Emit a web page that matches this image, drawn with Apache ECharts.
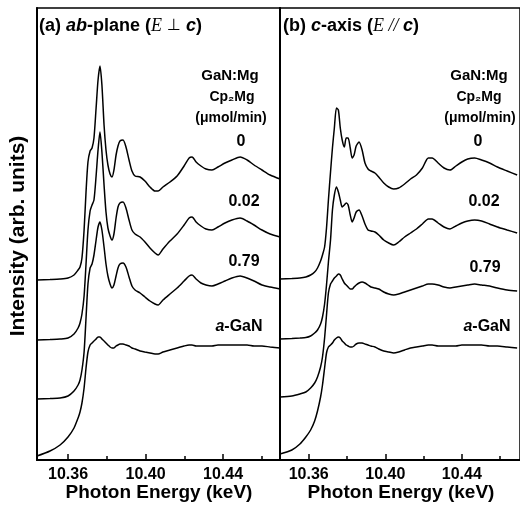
<!DOCTYPE html>
<html><head><meta charset="utf-8">
<script src="https://cdn.jsdelivr.net/npm/echarts@6/dist/echarts.min.js"></script>
<style>html,body{margin:0;padding:0;background:#fff}#c{width:520px;height:508px}</style>
</head><body><div id="c"></div>
<script>
// Photon energy grids (keV)
const energyA = [10.3440,10.3507,10.3559,10.3600,10.3631,10.3652,10.3662,10.3672,10.3683,10.3693,
  10.3703,10.3714,10.3724,10.3734,10.3745,10.3755,10.3765,10.3775,10.3786,10.3796,
  10.3806,10.3817,10.3827,10.3837,10.3848,10.3858,10.3868,10.3884,10.3899,10.3915,
  10.3930,10.3946,10.3972,10.3997,10.4023,10.4049,10.4065,10.4090,10.4126,10.4163,
  10.4199,10.4225,10.4240,10.4261,10.4286,10.4312,10.4343,10.4374,10.4410,10.4446,
  10.4488,10.4524,10.4560,10.4601,10.4643,10.4694];
const energyB = [10.3450,10.3512,10.3554,10.3585,10.3610,10.3631,10.3646,10.3662,10.3672,10.3683,
  10.3693,10.3703,10.3714,10.3724,10.3734,10.3745,10.3755,10.3765,10.3775,10.3786,
  10.3796,10.3806,10.3817,10.3827,10.3837,10.3848,10.3863,10.3879,10.3894,10.3910,
  10.3925,10.3946,10.3966,10.3992,10.4018,10.4044,10.4070,10.4101,10.4132,10.4163,
  10.4194,10.4225,10.4245,10.4276,10.4307,10.4338,10.4369,10.4400,10.4431,10.4467,
  10.4503,10.4545,10.4586,10.4637,10.4689];

// (a) ab-plane, intensities (arb. units, stacked with offsets)
const abMg0 = [180,180.5,181,182,185,190,193,202,230,268,298,309,312,322,352,380,394,375,335,310,
  295,286,283,290,305,314,319,320,313,300,289,284,283,279,273,269,269,273,278,284,
  294,302,303,298,294,291,290,293,297,300,303,300,295,290,285,281];
const abMg002 = [120,120.5,121,122,126,132,137,146,164,196,230,249,255,260,284,310,328,308,275,248,
  232,224,220,226,242,253,257,258,252,240,230,226,223,218,212,207,205,211,219,226,
  235,242,243,238,234,231,230,233,237,240,242,239,235,230,226,223];
const abMg079 = [61,61.5,62,64,69,75,80,90,108,142,176,192,196,205,220,233,238,230,213,196,
  184,176,172,175,184,192,196,197,193,183,174,170,167,163,159,156,155,160,166,172,
  179,184,185,181,177,175,174,176,179,182,184,182,179,175,173,171];
const abGaN = [4,9,15,23,32,42,48,57,72,92,108,115,117,119,121,123,123,121,119,117,
  115,113,112,112,114,115,116,116,115,114,112,111,109,108,107,106,106,108,110,112,
  114,115,115,114,114,114,114,115,115,115,115,115,114,114,113,112];

// (b) c-axis
const cMg0 = [181,181.5,182,183,185,188,192,199,205,213,232,260,288,312,332,352,350,332,320,313,
  322,322,312,302,305,314,318,310,297,291,289,287,283,277,273,271,272,276,281,285,
  292,302,302,297,292,290,294,298,301,302,300,297,293,289,285];
const cMg002 = [121,121.5,122,122.5,124,127,130,136,143,156,175,198,220,250,265,273,268,260,253,255,
  257,255,245,238,242,248,250,244,236,230,229,228,225,220,217,215,218,223,227,231,
  236,241,241,237,233,231,234,237,239,240,239,236,233,230,227];
const cMg079 = [63,64,66,68,72,77,83,93,103,122,145,167,176,179,182,184,186,185,181,177,
  175,173,171,171,173,175,177,178,177,175,173,172,171,168,166,165,166,168,170,172,
  174,176,176,175,173,172,173,174,175,176,175,174,172,170,169];
const cGaN = [6,10,16,23,30,39,49,63,75,92,107,113,115,117,120,122,123,122,119,117,
  115,114,113,113,114,116,117,117,116,115,114,113,111,109,108,107,108,110,112,113,
  114,115,115,114,114,114,114,115,115,115,115,114,114,113,112];

const majorTicks = [10.36, 10.40, 10.44];
const minorTicks = [10.38, 10.42, 10.46];
const sampleLabels = ['0', '0.02', '0.79', 'a-GaN'];

const FONT = 'Liberation Sans, Arial, Helvetica, sans-serif';
const chart = echarts.init(document.getElementById('c'));

function pairs(xs, ys){ return ys.map((v,i)=>[xs[i], v]); }
function line(xi, yi, xs, ys){
  return {type:'line', xAxisIndex:xi, yAxisIndex:yi, data:pairs(xs,ys), symbol:'none', smooth:0.25,
    lineStyle:{color:'#000', width:1.5}, silent:true, animation:false};
}
function mainX(grid, min, max){
  return {type:'value', gridIndex:grid, min:min, max:max, position:'bottom',
    axisLine:{show:true, lineStyle:{color:'#000', width:2}},
    axisTick:{show:true, inside:true, length:6, customValues:majorTicks, lineStyle:{color:'#000', width:1.5}},
    axisLabel:{show:true, customValues:majorTicks, formatter:v=>v.toFixed(2), color:'#000',
      fontFamily:FONT, fontWeight:'bold', fontSize:16, margin:7},
    splitLine:{show:false}};
}
function minorX(grid, min, max){
  return {type:'value', gridIndex:grid, min:min, max:max, position:'bottom',
    axisLine:{show:false},
    axisTick:{show:true, inside:true, length:4, customValues:minorTicks, lineStyle:{color:'#000', width:1.5}},
    axisLabel:{show:false}, splitLine:{show:false}};
}
function yAx(grid){
  return {type:'value', gridIndex:grid, min:0, max:452, axisLine:{show:true, lineStyle:{color:'#000', width:2}},
    axisTick:{show:false}, axisLabel:{show:false}, splitLine:{show:false}};
}
function txt(x, y, text, size, extra){
  return Object.assign({type:'text', x:x, y:y, silent:true,
    style:{text:text, align:'center', verticalAlign:'middle', fill:'#000',
      fontFamily:FONT, fontWeight:'bold', fontSize:size}}, extra||{});
}
const rich = {
  n:{fontFamily:FONT, fontWeight:'bold', fontSize:18, fill:'#000'},
  i:{fontFamily:FONT, fontWeight:'bold', fontStyle:'italic', fontSize:18, fill:'#000'},
  m:{fontFamily:'Liberation Serif, Times New Roman, serif', fontStyle:'italic', fontSize:18, fill:'#000'},
  s:{fontFamily:'DejaVu Sans, sans-serif', fontSize:16, fill:'#000'}
};
const labA = [[241,142],[244,202],[244,262],[239,327]];
const labB = [[478,142],[484,202],[485,268],[487,327]];
const graphics = [
  {type:'text', x:39, y:26, silent:true, style:{text:'{n|(a) }{i|ab}{n|-plane (}{m|E}{s| ⊥ }{i|c}{n|)}', rich:rich, align:'left', verticalAlign:'middle'}},
  {type:'text', x:283, y:26, silent:true, style:{text:'{n|(b) }{i|c}{n|-axis (}{m|E}{m| // }{i|c}{n|)}', rich:rich, align:'left', verticalAlign:'middle'}},
  txt(230, 76, 'GaN:Mg', 15), txt(232, 97, 'Cp₂Mg', 14), txt(231, 118, '(μmol/min)', 14),
  txt(479, 76, 'GaN:Mg', 15), txt(479, 97, 'Cp₂Mg', 14), txt(480, 118, '(μmol/min)', 14),
  txt(159, 493, 'Photon Energy (keV)', 19), txt(401, 493, 'Photon Energy (keV)', 19),
  txt(18, 236, 'Intensity (arb. units)', 21, {rotation:Math.PI/2})
];
sampleLabels.forEach((s,k)=>{
  const t = s === 'a-GaN' ? '{i|a}{n|-GaN}' : '{n|' + s + '}';
  const r = {n:{fontFamily:FONT, fontWeight:'bold', fontSize:16, fill:'#000'}, i:{fontFamily:FONT, fontWeight:'bold', fontStyle:'italic', fontSize:16, fill:'#000'}};
  graphics.push({type:'text', x:labA[k][0], y:labA[k][1], silent:true, style:{text:t, rich:r, align:'center', verticalAlign:'middle'}});
  graphics.push({type:'text', x:labB[k][0], y:labB[k][1], silent:true, style:{text:t, rich:r, align:'center', verticalAlign:'middle'}});
});

chart.setOption({
  animation:false,
  backgroundColor:'#fff',
  grid:[
    {left:37, top:8, width:243, height:452, show:true, borderColor:'#000', borderWidth:1.5, containLabel:false},
    {left:280, top:8, width:243, height:452, show:true, borderColor:'#000', borderWidth:1.5, containLabel:false}
  ],
  xAxis:[mainX(0,10.344,10.4694), minorX(0,10.344,10.4694), mainX(1,10.345,10.4704), minorX(1,10.345,10.4704)],
  yAxis:[yAx(0), yAx(1)],
  series:[
    line(0,0,energyA,abMg0), line(0,0,energyA,abMg002), line(0,0,energyA,abMg079), line(0,0,energyA,abGaN),
    line(2,1,energyB,cMg0), line(2,1,energyB,cMg002), line(2,1,energyB,cMg079), line(2,1,energyB,cGaN)
  ],
  graphic:graphics
});
</script></body></html>
